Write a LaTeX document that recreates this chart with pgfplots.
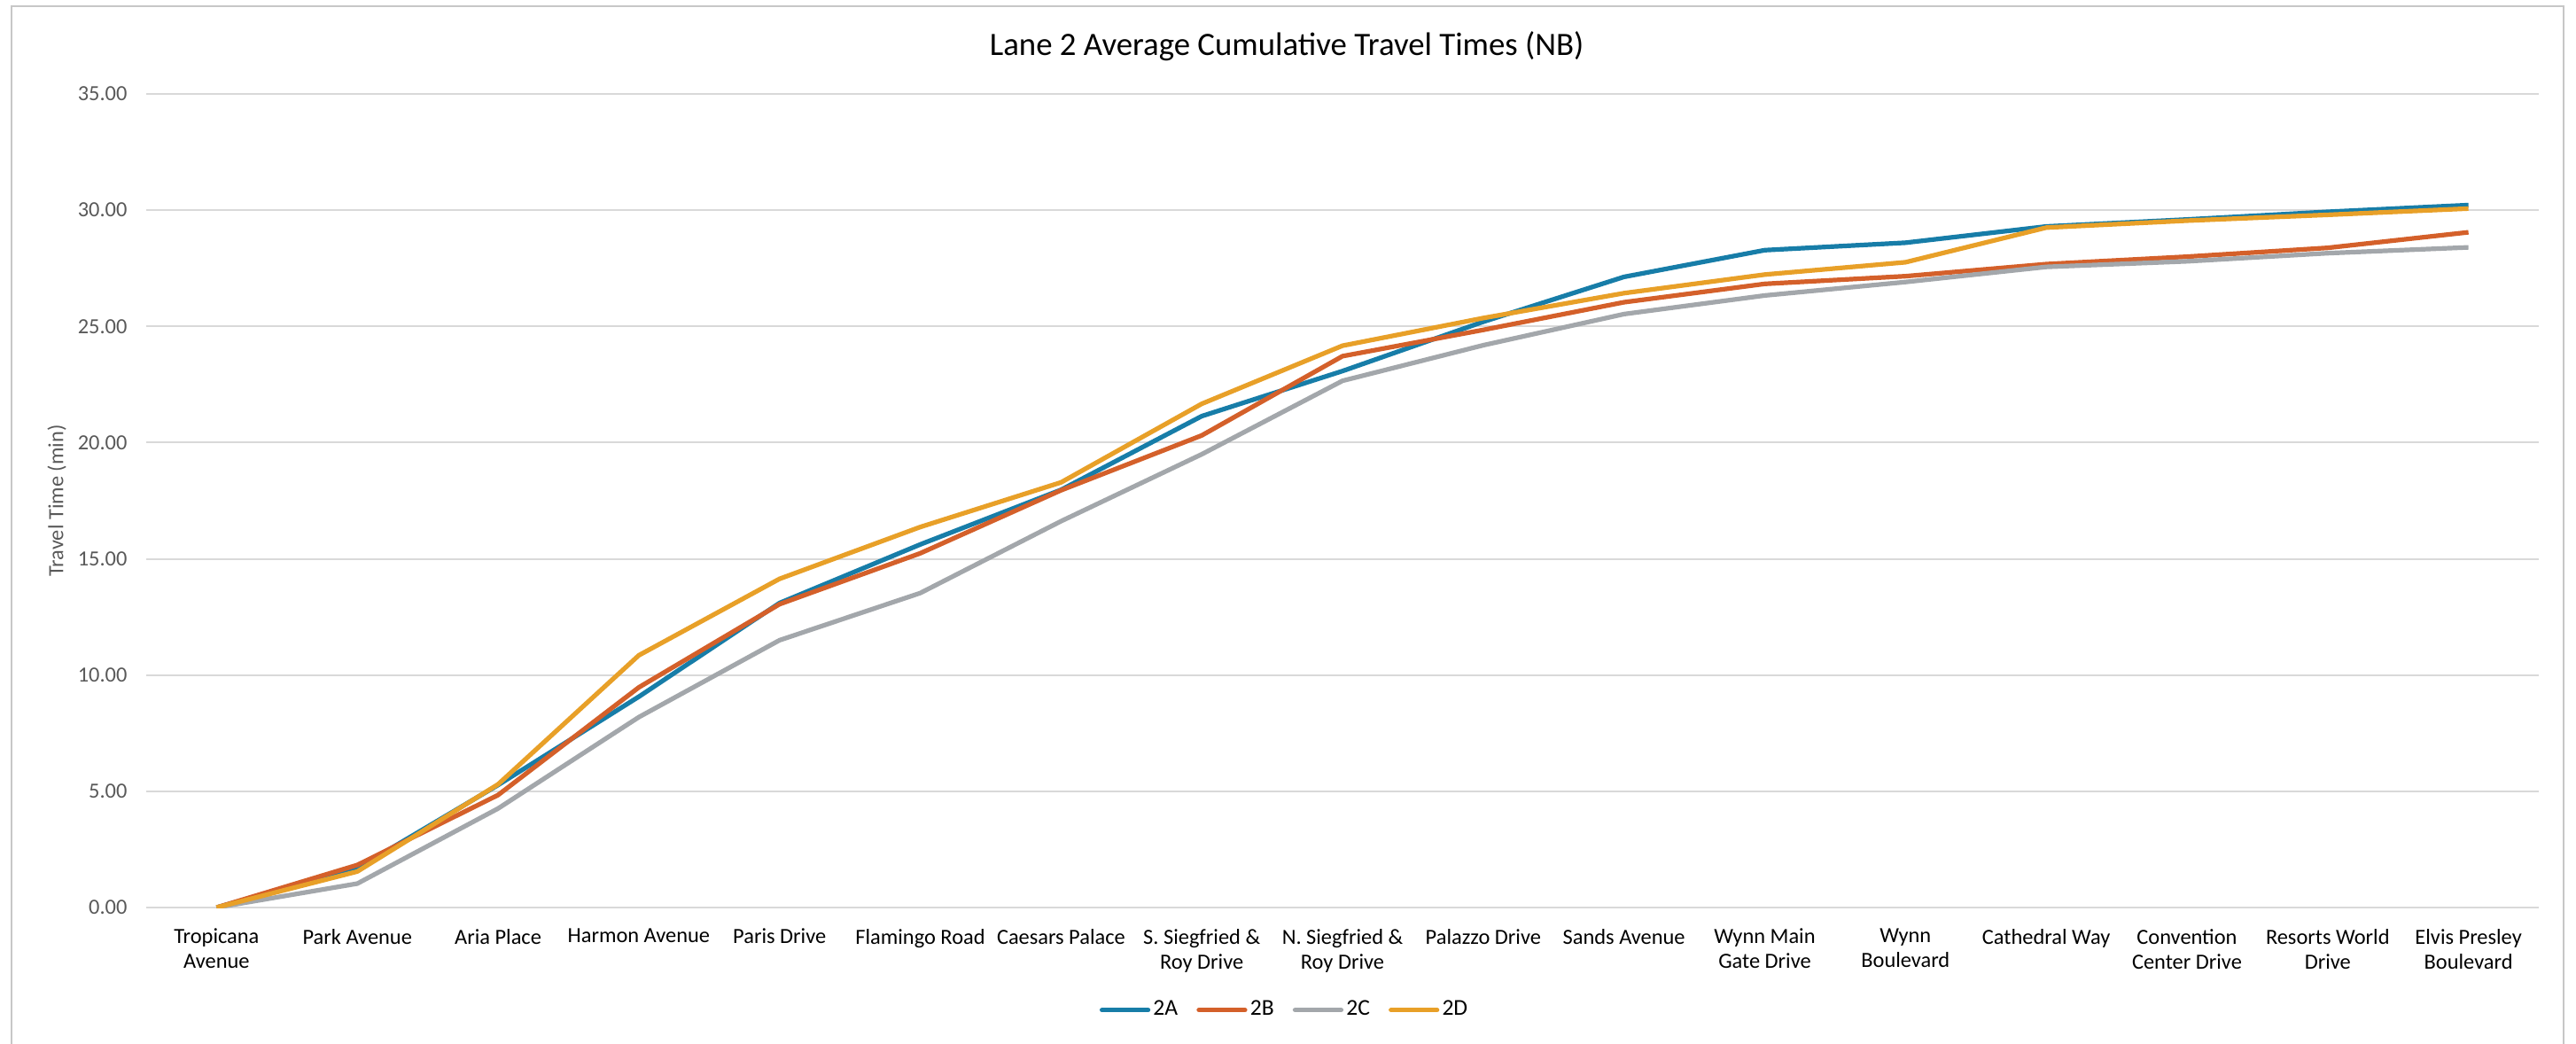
\documentclass[border=0pt]{standalone}
\usepackage{fontspec}
\setmainfont{Carlito}
\usepackage{pgfplots}
\usepackage{pgfplotstable}
\pgfplotsset{compat=1.18}
\definecolor{cA}{RGB}{23,125,168}
\definecolor{cB}{RGB}{212,96,42}
\definecolor{cC}{RGB}{163,167,171}
\definecolor{cD}{RGB}{232,160,40}
\definecolor{gridc}{RGB}{217,217,217}
\definecolor{txtgray}{RGB}{89,89,89}
\pgfplotstableread{
idx A B C D
0 0 0 0 0
1 1.69 1.83 1.03 1.55
2 5.27 4.84 4.26 5.30
3 9.07 9.47 8.19 10.85
4 13.10 13.05 11.50 14.14
5 15.62 15.24 13.53 16.37
6 17.97 17.95 16.62 18.29
7 21.14 20.31 19.50 21.67
8 23.08 23.72 22.66 24.17
9 25.20 24.85 24.19 25.36
10 27.13 26.04 25.53 26.43
11 28.28 26.83 26.33 27.23
12 28.60 27.16 26.91 27.76
13 29.30 27.68 27.56 29.25
14 29.60 28.00 27.80 29.55
15 29.93 28.38 28.15 29.80
16 30.22 29.05 28.40 30.07
}\datatable
\begin{document}
\begin{tikzpicture}
\useasboundingbox (0pt,0pt) rectangle (726.75pt,-294.25pt);
\draw[gridc!80!gray, line width=0.6pt] (3.25pt,-1.75pt) rectangle (723.25pt,-300pt);
\node[font=\fontsize{9.2}{11}\selectfont] at (363pt,-13pt) {Lane 2 Average Cumulative Travel Times (NB)};
\begin{axis}[
  at={(41.25pt,-256pt)}, anchor=south west,
  width=675pt, height=229.5pt, scale only axis,
  xmin=-0.5, xmax=16.5, ymin=0, ymax=35,
  ytick={0,5,...,35},
  xtick=data,
  xticklabels={{Tropicana\\Avenue},{Park Avenue},{Aria Place},{Harmon Avenue},{Paris Drive},{Flamingo Road},{Caesars Palace},{S. Siegfried \&\\Roy Drive},{N. Siegfried \&\\Roy Drive},{Palazzo Drive},{Sands Avenue},{Wynn Main\\Gate Drive},{Wynn\\Boulevard},{Cathedral Way},{Convention\\Center Drive},{Resorts World\\Drive},{Elvis Presley\\Boulevard}},
  x tick label style={align=center, font=\fontsize{6.1}{7}\selectfont, text=black, yshift=-2.5pt},
  y tick label style={font=\fontsize{6.1}{7}\selectfont, text=txtgray, xshift=-1.85pt},
  yticklabel style={/pgf/number format/.cd, fixed, fixed zerofill, precision=2, assume math mode=true},
  ylabel={Travel Time (min)},
  ylabel style={font=\fontsize{6.1}{7}\selectfont, text=txtgray, at={(axis description cs:-0.0374,0.5)}, anchor=center},
  ymajorgrids, major grid style={gridc, line width=0.5pt},
  axis line style={draw=none},
  tick style={draw=none},
  legend columns=4,
  legend style={at={(0.476,-0.126)}, anchor=center, draw=none, fill=none,
    font=\fontsize{6.4}{7}\selectfont, column sep=0pt,
    nodes={inner sep=0.8pt},
    /tikz/every even column/.append style={column sep=4.5pt}},
  legend image code/.code={\draw[#1, line cap=round] (0pt,0pt) -- (13pt,0pt);},
  every axis plot/.append style={line width=1.3pt, line join=round, no markers},
]
\addplot[cA] table[x=idx, y=A] {\datatable};
\addplot[cB] table[x=idx, y=B] {\datatable};
\addplot[cC] table[x=idx, y=C] {\datatable};
\addplot[cD] table[x=idx, y=D] {\datatable};
\legend{2A,2B,2C,2D}
\end{axis}
\end{tikzpicture}
\end{document}
